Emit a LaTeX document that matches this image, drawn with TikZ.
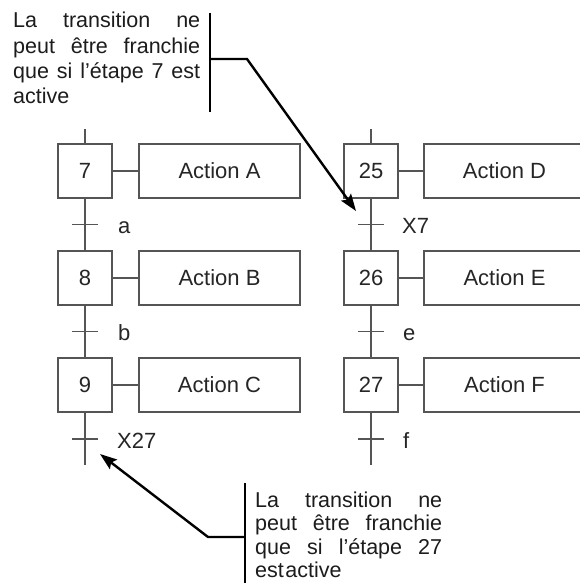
\documentclass[tikz,border=0pt]{standalone}
\usepackage{fontspec}
\setmainfont{Liberation Sans}
\usetikzlibrary{arrows.meta}
\definecolor{stroke}{HTML}{555555}
\definecolor{ink}{HTML}{262626}
\definecolor{noteink}{HTML}{1c1c1c}

\begin{document}
\begin{tikzpicture}[x=1pt,y=-1pt,
  stepbox/.style={draw=stroke, line width=1.2pt, minimum width=54pt,
    minimum height=54pt, inner sep=0pt, text=ink,
    font=\fontsize{22}{26}\selectfont},
  actbox/.style={stepbox, minimum width=161pt},
  link/.style={draw=stroke, line width=1.2pt},
  cond/.style={anchor=base west, inner sep=0pt, text=ink,
    font=\fontsize{22}{26}\selectfont},
  noteline/.style={anchor=base west, inner sep=0pt, text=noteink,
    font=\fontsize{21.5}{25}\selectfont},
  note/.style={line width=2.4pt, draw=black},
  pointer/.style={note, -{Stealth[length=17pt,width=12pt,inset=3pt]}}
]
\fill[white] (0,0) rectangle (579,583);
\useasboundingbox (0,0) rectangle (579,583);

% ---- left sequence: steps 7, 8, 9
\node[stepbox] (s7) at (85,171) {7};
\node[stepbox] (s8) at (85,278) {8};
\node[stepbox] (s9) at (85,385) {9};
\node[actbox] (a7) at (219.5,171) {Action A};
\node[actbox] (a8) at (219.5,278) {Action B};
\node[actbox] (a9) at (219.5,385) {Action C};
\coordinate (in7) at (85,129);
\coordinate (t7) at (85,224.5);
\coordinate (t8) at (85,331.5);
\coordinate (t9) at (85,439);
\coordinate (out9) at (85,465);

% ---- right sequence: steps 25, 26, 27
\node[stepbox] (s25) at (371,171) {25};
\node[stepbox] (s26) at (371,278) {26};
\node[stepbox] (s27) at (371,385) {27};
\node[actbox] (a25) at (504.5,171) {Action D};
\node[actbox] (a26) at (504.5,278) {Action E};
\node[actbox] (a27) at (504.5,385) {Action F};
\coordinate (in25) at (371,129);
\coordinate (t25) at (371,224.5);
\coordinate (t26) at (371,331.5);
\coordinate (t27) at (371,439);
\coordinate (out27) at (371,465);

% links between steps and to actions
\foreach \a/\b/\c/\i/\o in {s7/s8/s9/in7/out9, s25/s26/s27/in25/out27}{
  \draw[link] (\i) -- (\a.north);
  \draw[link] (\a.south) -- (\b.north);
  \draw[link] (\b.south) -- (\c.north);
  \draw[link] (\c.south) -- (\o);
}
\foreach \s/\a in {s7/a7, s8/a8, s9/a9, s25/a25, s26/a26, s27/a27}
  \draw[link] (\s.east) -- (\a.west);

% transition bars
\foreach \t in {t7, t8, t9, t25, t26, t27}
  \draw[link] ([xshift=-13pt]\t) -- ([xshift=13pt]\t);

% receptivities
\node[cond] (ca) at (118,233) {a};
\node[cond] (cb) at (118,340) {b};
\node[cond] (cx27) at (117,448) {X27};
\node[cond] (cx7) at (402,233) {X7};
\node[cond] (ce) at (403,340) {e};
\node[cond] (cf) at (403,448) {f};

% ---- upper note
\node[noteline] (n1) at (13,28) {\makebox[187pt][s]{La transition ne}};
\node[noteline] (n2) at (13,53.3) {\makebox[187pt][s]{peut être franchie}};
\node[noteline] (n3) at (13,78.6) {\makebox[187pt][s]{que si l’étape 7 est}};
\node[noteline] (n4) at (13,103.9) {active};
\coordinate (barA1) at (210,13);
\coordinate (barA2) at (210,112);
\coordinate (kneeA0) at (210,59);
\coordinate (kneeA) at (247,59);
\coordinate (tipA) at (356,211);
\draw[note] (barA1) -- (barA2);
\draw[pointer] (kneeA0) -- (kneeA) -- (tipA);

% ---- lower note
\node[noteline] (m1) at (255,507) {\makebox[187pt][s]{La transition ne}};
\node[noteline] (m2) at (255,530.5) {\makebox[187pt][s]{peut être franchie}};
\node[noteline] (m3) at (255,554) {\makebox[187pt][s]{que si l’étape 27}};
\node[noteline] (m4) at (255,577) {est\kern1.5pt active};
\coordinate (barB1) at (245,483);
\coordinate (barB2) at (245,590);
\coordinate (kneeB0) at (245,537);
\coordinate (kneeB) at (208,537);
\coordinate (tipB) at (100,454);
\draw[note] (barB1) -- (barB2);
\draw[pointer] (kneeB0) -- (kneeB) -- (tipB);
\end{tikzpicture}
\end{document}
